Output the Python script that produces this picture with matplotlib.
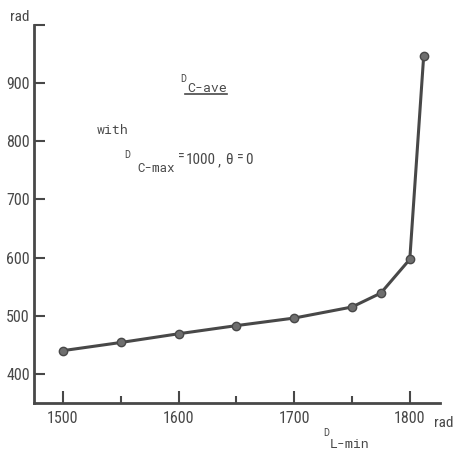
import matplotlib
matplotlib.use('Agg')
import matplotlib.pyplot as plt
from matplotlib.lines import Line2D

# values
d_l_min = [1500, 1550, 1600, 1650, 1700, 1750, 1775, 1800, 1812]
d_c_ave = [440, 454, 469, 483, 496, 515, 539, 597, 946]
y_ticks = [400, 500, 600, 700, 800, 900, 1000]
y_labels = ['400', '500', '600', '700', '800', '900', '']
x_major = [1500, 1600, 1700, 1800]
x_minor = [1550, 1650, 1750]

cond = ['Roboto Condensed', 'DejaVu Sans']
mono = ['Roboto Mono', 'DejaVu Sans Mono']
plt.rcParams['font.family'] = cond

ink = '#484848'
fig = plt.figure(figsize=(4.55, 4.55), dpi=100)
ax = fig.add_axes([0.0747, 0.1143, 0.892, 0.831])

ax.plot(d_l_min, d_c_ave, color=ink, lw=2.2, marker='o', ms=6,
        markerfacecolor='#6e6e6e', markeredgecolor=ink, markeredgewidth=1)

ax.set_xlim(1475, 1826)
ax.set_ylim(350, 1000)
ax.spines['top'].set_visible(False)
ax.spines['right'].set_visible(False)
for s in ('left', 'bottom'):
    ax.spines[s].set_color(ink)
    ax.spines[s].set_linewidth(2)

ax.set_yticks(y_ticks)
ax.set_yticklabels(y_labels)
ax.set_xticks(x_major)
ax.set_xticks(x_minor, minor=True)
ax.tick_params(axis='y', direction='in', length=8, width=1.5, color=ink,
               labelsize=11.5, labelcolor=ink, pad=3)
ax.tick_params(axis='x', which='major', direction='in', length=9, width=1.5,
               color=ink, labelsize=11.5, labelcolor=ink, pad=6)
ax.tick_params(axis='x', which='minor', direction='in', length=5, width=1.5,
               color=ink)


def put(x, y, s, size=10, family=mono):
    # place text by pixel position measured from the top-left corner
    fig.text(x / 455, 1 - y / 455, s, fontsize=size, color=ink,
             ha='left', va='center', family=family)


# axis unit and variable labels
put(10, 17, 'rad', 11, cond)
put(434, 423, 'rad', 11, cond)
put(323, 433, 'D', 7)
put(330, 445, 'L-min', 9.5)

# annotation block
put(180, 79, 'D', 7)
put(187, 88, 'C-ave', 9.5)
fig.add_artist(Line2D([185 / 455, 227 / 455], [1 - 94 / 455, 1 - 94 / 455],
                      color=ink, lw=1.2, transform=fig.transFigure))
put(97, 131, 'with', 9.5)
put(124, 155, 'D', 7)
put(137, 168, 'C-max', 9)
put(178, 157, '=', 10, cond)
put(186, 160, '1000', 11, cond)
put(218, 161, ',', 11, cond)
put(225, 160, '\u03b8', 11, cond)
put(237, 158, '=', 10, cond)
put(245, 160, '0', 11, cond)

fig.savefig('out.png', dpi=100)
